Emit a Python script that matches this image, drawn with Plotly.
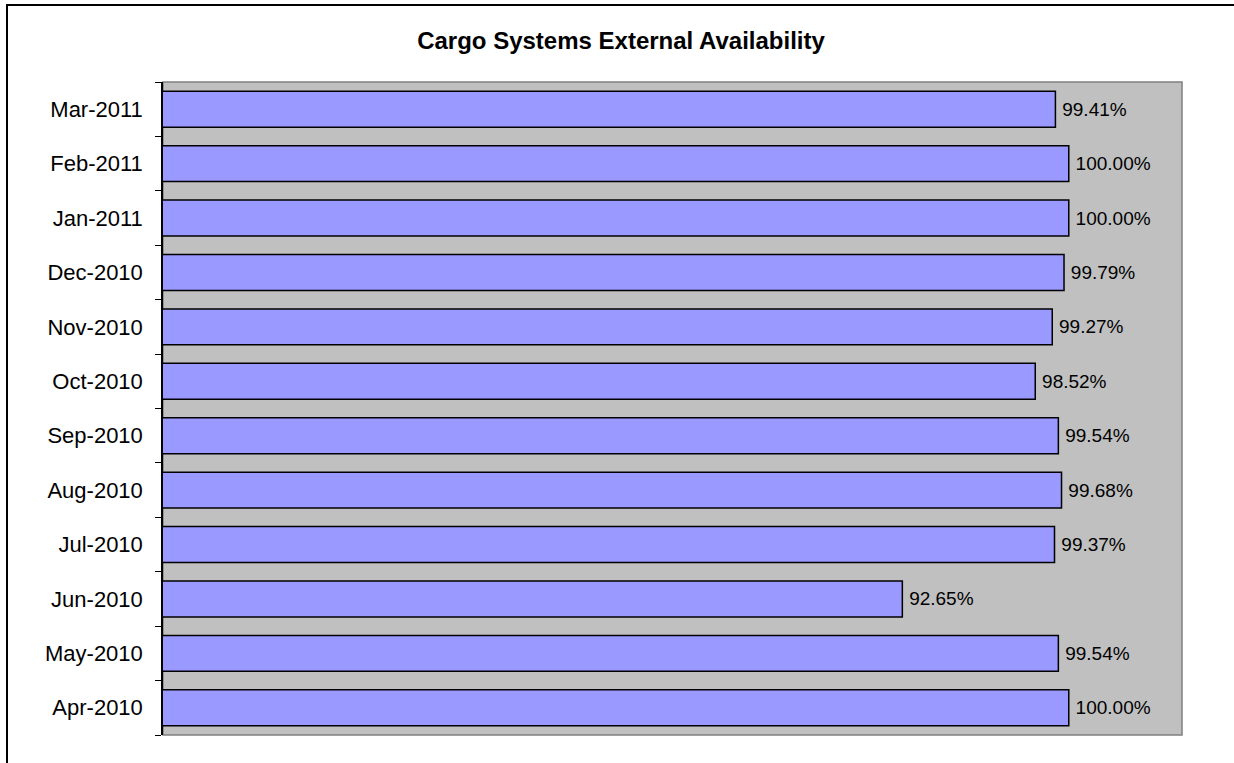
import plotly.graph_objects as go

months = ["Apr-2010", "May-2010", "Jun-2010", "Jul-2010", "Aug-2010", "Sep-2010",
          "Oct-2010", "Nov-2010", "Dec-2010", "Jan-2011", "Feb-2011", "Mar-2011"]
availability = [100.00, 99.54, 92.65, 99.37, 99.68, 99.54,
                98.52, 99.27, 99.79, 100.00, 100.00, 99.41]

W, H = 1234, 763
L, R, T, B = 163, 52, 82, 28
pw, ph = W - L - R, H - T - B

def px(x):
    return (x - L) / pw

def py(y):
    return (H - B - y) / ph

FONT = "Liberation Sans, Arial, sans-serif"

fig = go.Figure(go.Bar(
    x=availability, y=months, orientation="h",
    marker=dict(color="#9999FF", line=dict(color="#000000", width=1.5)),
    texttemplate="\u2009%{x:.2f}%", textposition="outside",
    textfont=dict(family=FONT, size=19, color="#000000"),
    cliponaxis=False, hoverinfo="skip",
))

fig.update_layout(
    width=W, height=H,
    margin=dict(l=L, r=R, t=T, b=B, autoexpand=False),
    paper_bgcolor="#FFFFFF", plot_bgcolor="#C0C0C0",
    bargap=0.34, showlegend=False,
    title=dict(text="<b>Cargo Systems External Availability</b>",
               x=621 / W, xanchor="center", y=1 - 41 / H, yanchor="middle",
               font=dict(family=FONT, size=24, color="#000000")),
    xaxis=dict(range=[60, 105], showticklabels=False, showgrid=False,
               zeroline=False, ticks="", showline=False, fixedrange=True),
    yaxis=dict(type="category", showgrid=False, zeroline=False,
               showline=True, linecolor="#000000", linewidth=1.5,
               ticks="outside", ticklen=6, tickcolor="#000000", tickwidth=1,
               tickson="boundaries", ticklabelstandoff=14, fixedrange=True,
               tickfont=dict(family=FONT, size=22, color="#000000")),
    shapes=[
        dict(type="rect", xref="paper", yref="paper", x0=0, x1=1, y0=0, y1=1,
             line=dict(color="#808080", width=1.5), layer="below"),
        dict(type="path", xref="paper", yref="paper",
             path=f"M {px(7)} {py(775)} L {px(7)} {py(5)} L {px(1245)} {py(5)}",
             line=dict(color="#000000", width=2)),
    ],
)

fig.write_html("out.html",
               config={"displayModeBar": False},
               post_script="document.body.style.margin='0';document.body.style.padding='0';")
